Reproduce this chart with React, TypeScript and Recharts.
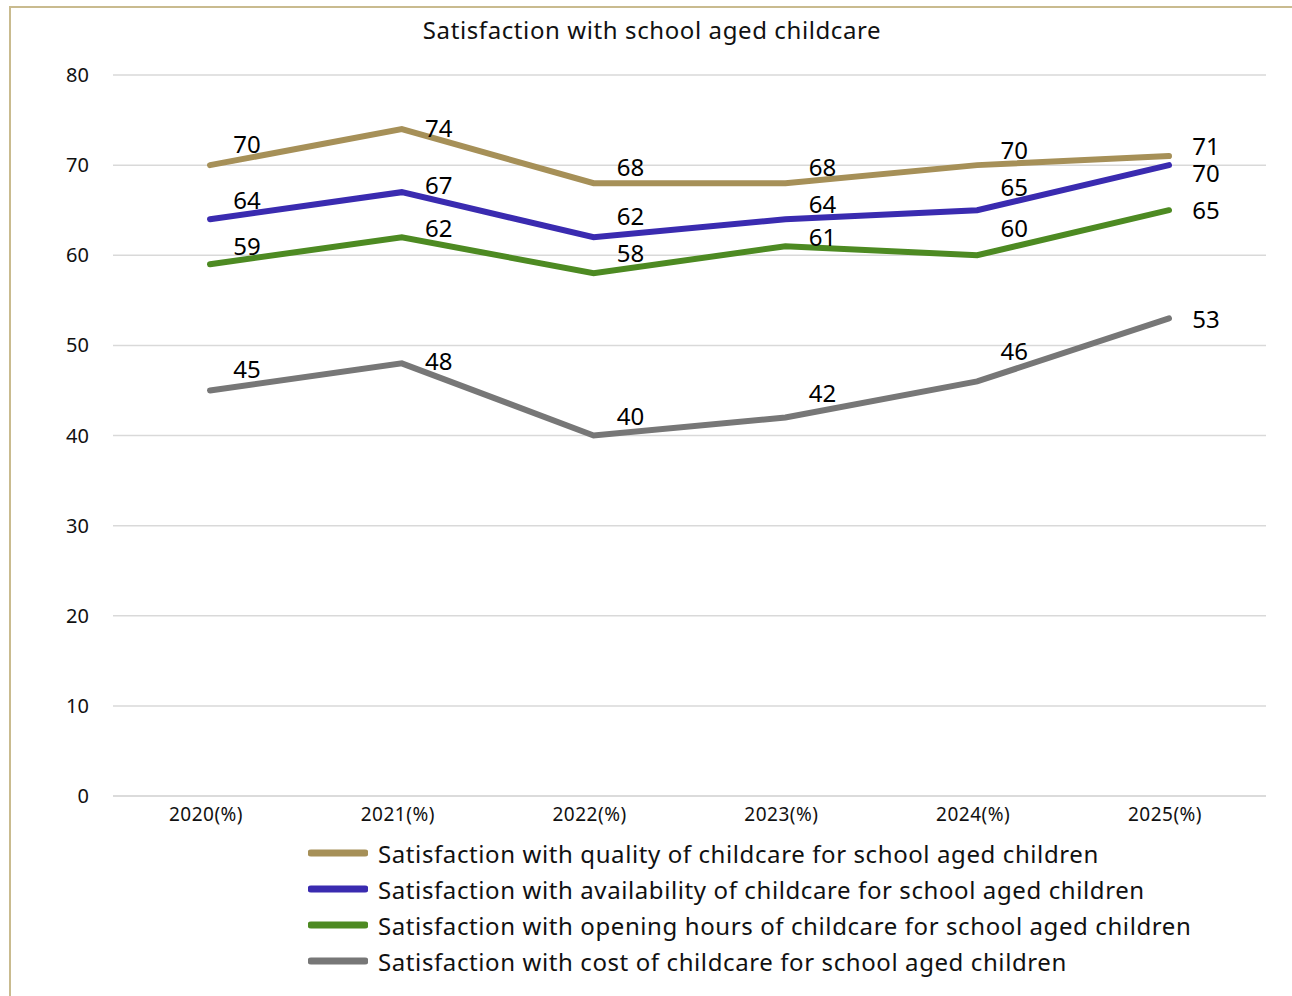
import React from 'react';
import { LineChart, Line, XAxis, YAxis, CartesianGrid, Legend, LabelList } from 'recharts';

const years = ['2020(%)', '2021(%)', '2022(%)', '2023(%)', '2024(%)', '2025(%)'];
const quality = [70, 74, 68, 68, 70, 71];
const availability = [64, 67, 62, 64, 65, 70];
const openingHours = [59, 62, 58, 61, 60, 65];
const cost = [45, 48, 40, 42, 46, 53];
const yTicks = [0, 10, 20, 30, 40, 50, 60, 70, 80];

const data = years.map((year, i) => ({
  year,
  quality: quality[i],
  availability: availability[i],
  openingHours: openingHours[i],
  cost: cost[i],
}));

const FONT = '"Noto Sans", Lato, sans-serif';

const series = [
  { key: 'quality', name: 'Satisfaction with quality of childcare for school aged children', color: '#a69058' },
  { key: 'availability', name: 'Satisfaction with availability of childcare for school aged children', color: '#3a2bb0' },
  { key: 'openingHours', name: 'Satisfaction with opening hours of childcare for school aged children', color: '#4d8a22' },
  { key: 'cost', name: 'Satisfaction with cost of childcare for school aged children', color: '#777777' },
];

// vertical offsets of each value label from its point, so labels don't collide
const labelLift: Record<string, number[]> = {
  quality: [-22, -2, -17, -17, -16, -11],
  availability: [-20, -8, -22, -16, -24, 7],
  openingHours: [-19, -10, -21, -10, -28, -1],
  cost: [-22, -3, -20, -25, -31, 0],
};

const makeLabel = (key: string) => (props: any) => {
  const { x, y, value, index } = props;
  const lift = labelLift[key][index] ?? -20;
  return (
    <text
      x={x + 37}
      y={y + lift}
      textAnchor="middle"
      dominantBaseline="central"
      fontSize={24}
      fontFamily={FONT}
      fill="#000"
    >
      {value}
    </text>
  );
};

const LegendContent = () => (
  <div style={{ fontFamily: FONT }}>
    {series.map((s) => (
      <div key={s.key} style={{ display: 'flex', alignItems: 'center', height: 36 }}>
        <svg width={60} height={10} style={{ marginRight: 10 }}>
          <line x1={3} y1={5} x2={57} y2={5} stroke={s.color} strokeWidth={7} strokeLinecap="round" />
        </svg>
        <span style={{ fontSize: 24, letterSpacing: 0.6, color: '#111', whiteSpace: 'nowrap' }}>{s.name}</span>
      </div>
    ))}
  </div>
);

export default function App() {
  return (
    <div style={{ position: 'absolute', left: 0, top: 0, width: 1292, height: 996, background: '#fff', overflow: 'hidden' }}>
      <div
        style={{
          position: 'absolute',
          left: 9,
          top: 6,
          width: 1400,
          height: 1100,
          borderLeft: '2px solid #c9bb8f',
          borderTop: '2px solid #c9bb8f',
        }}
      />
      <div
        style={{
          position: 'absolute',
          left: 0,
          width: 1304,
          top: 13,
          textAlign: 'center',
          fontFamily: FONT,
          fontSize: 24,
          letterSpacing: 0.6,
          color: '#111',
        }}
      >
        Satisfaction with school aged childcare
      </div>
      <div style={{ position: 'absolute', left: 0, top: 0 }}>
        <LineChart width={1292} height={996} data={data} margin={{ top: 75, right: 26, bottom: 170, left: 0 }}>
          <CartesianGrid vertical={false} stroke="#d9d9d9" strokeWidth={1.5} />
          <XAxis
            dataKey="year"
            axisLine={{ stroke: '#d9d9d9', strokeWidth: 1.5 }}
            tickLine={false}
            tickSize={0}
            tickMargin={12}
            height={30}
            padding={{ left: 97, right: 97 }}
            tick={{ fontSize: 19, letterSpacing: 0.5, fontFamily: FONT, fill: '#111', dx: -4 }}
          />
          <YAxis
            domain={[0, 80]}
            ticks={yTicks}
            axisLine={false}
            tickLine={false}
            tickSize={0}
            tickMargin={24}
            width={113}
            tick={{ fontSize: 20, fontFamily: FONT, fill: '#111' }}
          />
          <Legend
            layout="horizontal"
            verticalAlign="middle"
            align="center"
            content={<LegendContent />}
            wrapperStyle={{ left: 308, top: 835, width: 'auto', height: 'auto' }}
          />
          {series.map((s) => (
            <Line
              key={s.key}
              type="linear"
              dataKey={s.key}
              name={s.name}
              stroke={s.color}
              strokeWidth={6}
              strokeLinecap="round"
              dot={false}
              activeDot={false}
              isAnimationActive={false}
            >
              <LabelList dataKey={s.key} content={makeLabel(s.key)} />
            </Line>
          ))}
        </LineChart>
      </div>
    </div>
  );
}
